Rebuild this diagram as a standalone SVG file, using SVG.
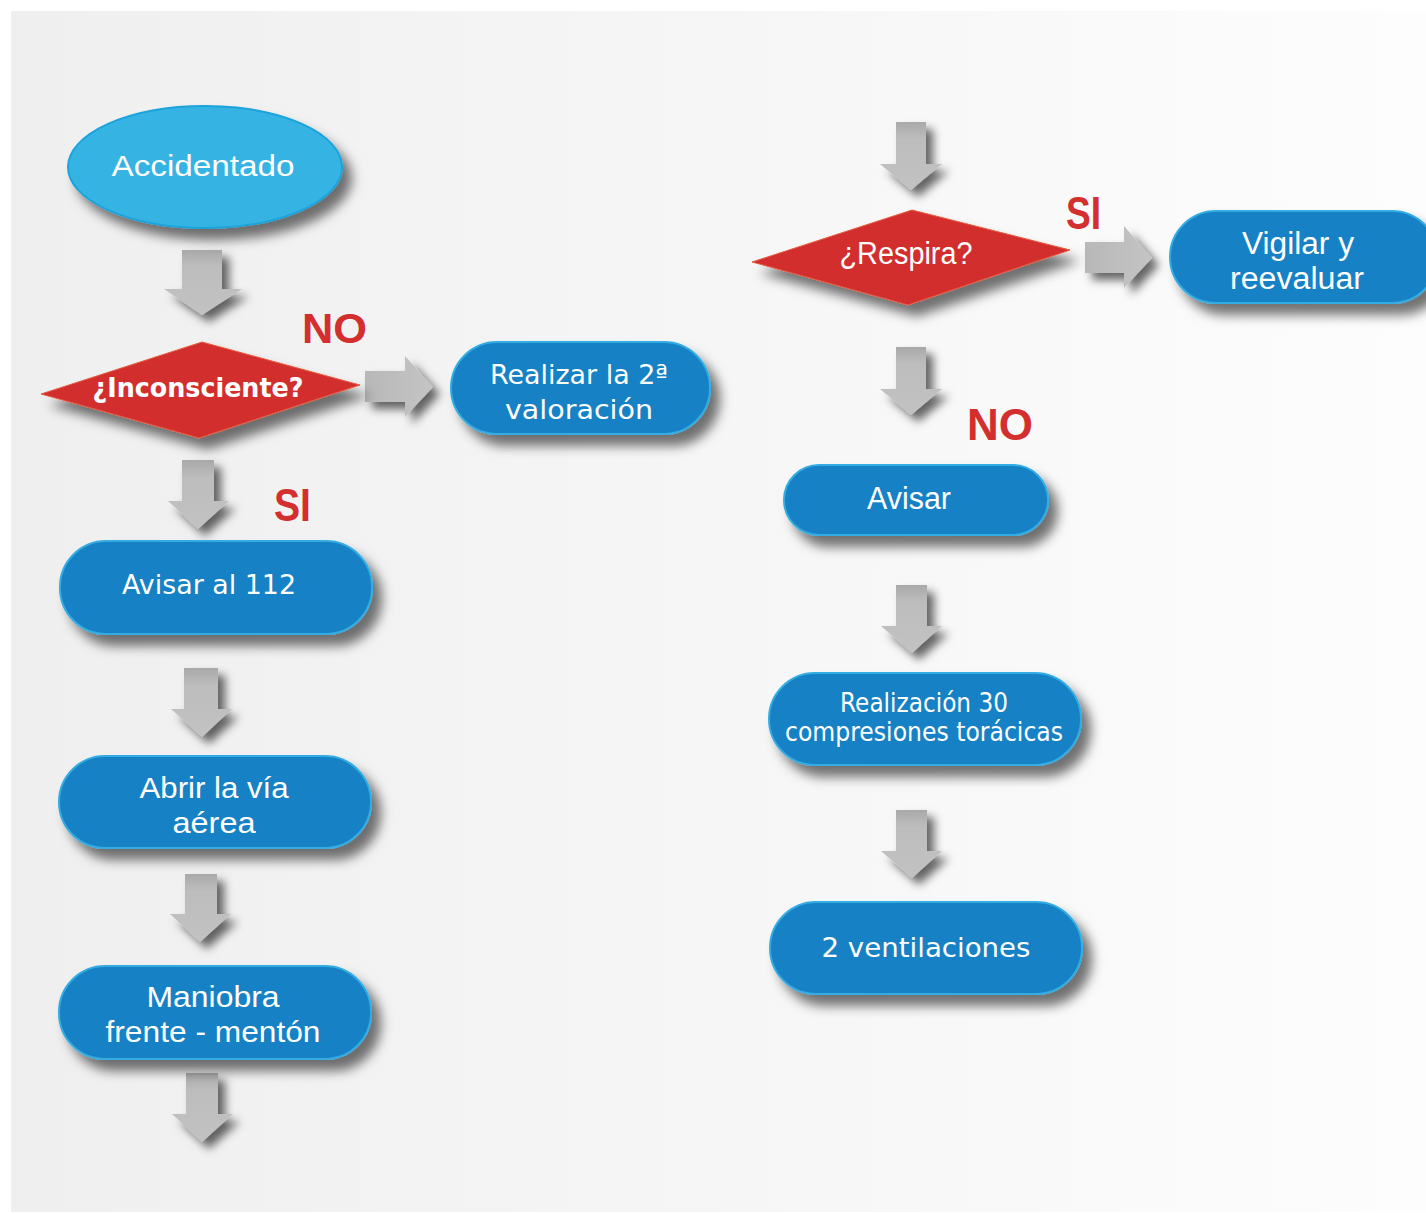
<svg xmlns="http://www.w3.org/2000/svg" width="1426" height="1214" viewBox="0 0 1426 1214">
<defs>
  <linearGradient id="bg" x1="0" y1="0" x2="1" y2="0">
    <stop offset="0" stop-color="#efefef"/>
    <stop offset="0.5" stop-color="#f6f6f6"/>
    <stop offset="1" stop-color="#fdfdfd"/>
  </linearGradient>
  <linearGradient id="arrowFill" x1="0" y1="0" x2="0" y2="1">
    <stop offset="0" stop-color="#a9a9a9"/>
    <stop offset="0.25" stop-color="#bdbdbd"/>
    <stop offset="1" stop-color="#c2c2c2"/>
  </linearGradient>
  <linearGradient id="arrowFillH" x1="0" y1="0" x2="1" y2="0">
    <stop offset="0" stop-color="#b8b8b8"/>
    <stop offset="1" stop-color="#c4c4c4"/>
  </linearGradient>
  <filter id="shadow" x="-20%" y="-20%" width="150%" height="160%">
    <feDropShadow dx="9" dy="11" stdDeviation="6" flood-color="#000" flood-opacity="0.55"/>
  </filter>
  <filter id="ashadow" x="-40%" y="-30%" width="200%" height="170%">
    <feDropShadow dx="7" dy="7" stdDeviation="5" flood-color="#000" flood-opacity="0.6"/>
  </filter>
  <style>
    .pill { fill: #1782c5; stroke: #33ace2; stroke-width: 2; filter: url(#shadow); }
    .dia { fill: #d32f2f; stroke: #e65b3f; stroke-width: 1; filter: url(#shadow); }
    .arr { fill: url(#arrowFill); filter: url(#ashadow); }
    .arrh { fill: url(#arrowFillH); filter: url(#ashadow); }
    .t { font-family: "DejaVu Sans", "Liberation Sans", sans-serif; fill: #ffffff; text-anchor: middle; font-size: 27px; }
    .ta { font-family: "Liberation Sans", Arial, sans-serif; fill: #ffffff; text-anchor: middle; font-size: 30px; }
    .tb { font-family: "DejaVu Sans", "Liberation Sans", sans-serif; fill: #ffffff; text-anchor: middle; font-size: 26px; font-weight: bold; }
    .tc { font-family: "Liberation Sans Narrow", "Liberation Sans", sans-serif; fill: #ffffff; text-anchor: middle; font-size: 31px; }
    .lbl { font-family: "Liberation Sans", Arial, sans-serif; fill: #d32f2f; font-weight: bold; }
  </style>
</defs>

<rect x="0" y="0" width="1426" height="1214" fill="#ffffff"/>
<rect x="11" y="11" width="1415" height="1201" fill="url(#bg)"/>

<g id="connectors">
  <polygon class="arr" points="182,250 222,250 222,289 242,289 202,315 164,289 182,289"/>
  <polygon class="arrh" points="365,371 405,371 405,356 433,387 405,417 405,402 365,402"/>
  <polygon class="arr" points="182,460 214,460 214,501 229,501 198,529 168,501 182,501"/>
  <polygon class="arr" points="184,668 218,668 218,709 232,709 202,737 171,709 184,709"/>
  <polygon class="arr" points="185,874 217,874 217,914 231,914 200,942 170,914 185,914"/>
  <polygon class="arr" points="186,1073 218,1073 218,1114 233,1114 202,1142 172,1114 186,1114"/>
  <polygon class="arr" points="896,122 926,122 926,164 942,164 911,190 880,164 896,164"/>
  <polygon class="arrh" points="1085,242 1124,242 1124,226 1152,258 1124,288 1124,273 1085,273"/>
  <polygon class="arr" points="896,347 926,347 926,389 942,389 911,415 880,389 896,389"/>
  <polygon class="arr" points="896,585 927,585 927,626 942,626 912,653 881,626 896,626"/>
  <polygon class="arr" points="896,810 927,810 927,851 942,851 912,878 881,851 896,851"/>
</g>

<g id="labels">
  <text class="lbl" x="302" y="343" font-size="43" textLength="65" lengthAdjust="spacingAndGlyphs">NO</text>
  <text class="lbl" x="274" y="521" font-size="46" textLength="37" lengthAdjust="spacingAndGlyphs">SI</text>
  <text class="lbl" x="1066" y="229" font-size="46" textLength="35" lengthAdjust="spacingAndGlyphs">SI</text>
  <text class="lbl" x="967" y="440" font-size="45" textLength="66" lengthAdjust="spacingAndGlyphs">NO</text>
</g>

<g id="n-accidentado">
  <ellipse cx="205" cy="167" rx="137" ry="61" fill="#36b4e4" stroke="#1aa3dc" stroke-width="2" filter="url(#shadow)"/>
  <text class="ta" x="203" y="176" font-size="31" textLength="183" lengthAdjust="spacingAndGlyphs">Accidentado</text>
</g>

<g id="n-inconsciente">
  <polygon class="dia" points="41,394 202,342 360,385 199,438"/>
  <text class="tb" x="198" y="397" textLength="211" lengthAdjust="spacingAndGlyphs">¿Inconsciente?</text>
</g>

<g id="n-realizar2">
  <rect class="pill" x="451" y="342" width="259" height="92" rx="46" ry="46"/>
  <text class="t" x="579" y="384" textLength="178" lengthAdjust="spacingAndGlyphs">Realizar la 2ª</text>
  <text class="t" x="579" y="419" textLength="148" lengthAdjust="spacingAndGlyphs">valoración</text>
</g>

<g id="n-avisar112">
  <rect class="pill" x="60" y="541" width="312" height="93" rx="46" ry="46"/>
  <text class="t" x="209" y="594" textLength="174" lengthAdjust="spacingAndGlyphs">Avisar al 112</text>
</g>

<g id="n-abrir">
  <rect class="pill" x="59" y="756" width="312" height="92" rx="46" ry="46"/>
  <text class="ta" x="214" y="798" textLength="149" lengthAdjust="spacingAndGlyphs">Abrir la vía</text>
  <text class="ta" x="214" y="833" textLength="83" lengthAdjust="spacingAndGlyphs">aérea</text>
</g>

<g id="n-maniobra">
  <rect class="pill" x="59" y="966" width="312" height="93" rx="46" ry="46"/>
  <text class="ta" x="213" y="1007" textLength="133" lengthAdjust="spacingAndGlyphs">Maniobra</text>
  <text class="ta" x="213" y="1042" textLength="215" lengthAdjust="spacingAndGlyphs">frente - mentón</text>
</g>

<g id="n-respira">
  <polygon class="dia" points="752,262 912,210 1070,250 908,305"/>
  <text class="tc" x="906" y="264" font-size="30" textLength="133" lengthAdjust="spacingAndGlyphs">¿Respira?</text>
</g>

<g id="n-vigilar">
  <rect class="pill" x="1170" y="211" width="268" height="92" rx="46" ry="46"/>
  <text class="tc" x="1298" y="254" textLength="112" lengthAdjust="spacingAndGlyphs">Vigilar y</text>
  <text class="tc" x="1297" y="289" textLength="134" lengthAdjust="spacingAndGlyphs">reevaluar</text>
</g>

<g id="n-avisar">
  <rect class="pill" x="784" y="465" width="264" height="70" rx="35" ry="35"/>
  <text class="tc" x="909" y="509" textLength="84" lengthAdjust="spacingAndGlyphs">Avisar</text>
</g>

<g id="n-compresiones">
  <rect class="pill" x="769" y="673" width="312" height="92" rx="46" ry="46"/>
  <text class="t" x="924" y="712" font-size="22" textLength="168" lengthAdjust="spacingAndGlyphs">Realización 30</text>
  <text class="t" x="924" y="741" font-size="22" textLength="278" lengthAdjust="spacingAndGlyphs">compresiones torácicas</text>
</g>

<g id="n-ventilaciones">
  <rect class="pill" x="770" y="902" width="312" height="92" rx="46" ry="46"/>
  <text class="t" x="926" y="957" textLength="209" lengthAdjust="spacingAndGlyphs">2 ventilaciones</text>
</g>
</svg>
